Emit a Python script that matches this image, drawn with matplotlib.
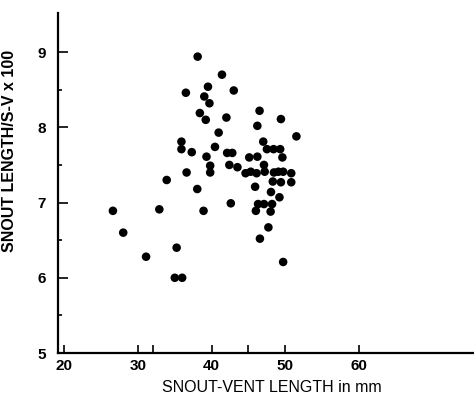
import matplotlib
matplotlib.use("Agg")
import matplotlib.pyplot as plt
from matplotlib.ticker import FixedLocator

plt.rcParams['font.family'] = ['Liberation Sans', 'DejaVu Sans']

# Snout-vent length (mm)
svl = [26.6, 28.0, 31.1, 32.9, 33.9, 35.0, 36.0, 35.25, 36.6, 38.05,
       38.9, 39.8, 39.8, 35.9, 35.9, 37.3, 39.3, 40.45, 40.95, 38.4,
       39.2, 39.7, 39.0, 39.5, 36.5, 38.1, 41.4, 43.0, 42.0, 42.1,
       42.8, 42.4, 43.5, 42.6, 44.6, 45.3, 46.1, 45.1, 46.2, 46.5,
       46.2, 47.0, 47.5, 48.4, 49.3, 49.4, 51.5, 49.6, 47.1, 47.2,
       48.45, 49.05, 49.7, 50.8, 45.9, 48.3, 49.4, 50.8, 48.05, 49.2,
       46.3, 47.1, 48.2, 46.0, 48.0, 47.7, 46.55, 49.7]
# Snout length / S-V x 100
ratio = [6.89, 6.60, 6.28, 6.91, 7.30, 6.00, 6.00, 6.40, 7.40, 7.18,
         6.89, 7.49, 7.40, 7.81, 7.71, 7.67, 7.61, 7.74, 7.93, 8.19,
         8.10, 8.32, 8.41, 8.54, 8.46, 8.94, 8.70, 8.49, 8.13, 7.66,
         7.66, 7.50, 7.47, 6.99, 7.39, 7.41, 7.39, 7.60, 7.61, 8.22,
         8.02, 7.81, 7.71, 7.71, 7.71, 8.11, 7.88, 7.60, 7.50, 7.41,
         7.40, 7.41, 7.41, 7.39, 7.21, 7.28, 7.27, 7.27, 7.14, 7.07,
         6.98, 6.98, 6.98, 6.89, 6.88, 6.67, 6.52, 6.21]

x_major = [20, 30, 40, 50, 60]
x_minor = [32, 45]
y_major = [5, 6, 7, 8, 9]
y_minor = [5.5, 6.5, 7.5, 8.5]

fig = plt.figure(figsize=(4.74, 4.01), dpi=100)
ax = fig.add_axes([58/474, 1 - 353/401, 1 - 58/474, (353 - 13)/401])

ax.scatter(svl, ratio, s=38, color='black', edgecolors='none', zorder=3)

ax.set_xlim(19.15, 75.6)
ax.set_ylim(5.0, 9.52)

ax.spines['top'].set_visible(False)
ax.spines['right'].set_visible(False)
ax.spines['left'].set_linewidth(1.6)
ax.spines['bottom'].set_linewidth(1.6)

ax.xaxis.set_major_locator(FixedLocator(x_major))
ax.xaxis.set_minor_locator(FixedLocator(x_minor))
ax.yaxis.set_major_locator(FixedLocator(y_major))
ax.yaxis.set_minor_locator(FixedLocator(y_minor))

ax.tick_params(axis='x', which='major', direction='in', length=6, width=1.2,
               pad=4, labelsize=11)
ax.tick_params(axis='x', which='minor', direction='in', length=6, width=1.2)
ax.tick_params(axis='y', which='major', direction='in', length=7, width=1.2,
               pad=9, labelsize=11)
ax.tick_params(axis='y', which='minor', direction='in', length=3, width=1.2)
ax.set_xticklabels([str(v) for v in x_major], fontweight='bold')
ax.set_yticklabels([str(v) for v in y_major], fontweight='bold')

ax.set_xlabel('SNOUT-VENT LENGTH in mm', fontsize=11.5)
ax.xaxis.set_label_coords((272 - 58) / (474 - 58), -0.08)
ax.set_ylabel('SNOUT LENGTH/S-V x 100', fontsize=11.5, fontweight='bold')
ax.yaxis.set_label_coords(-(58 - 17) / (474 - 58), (353 - 151) / 340)

fig.savefig('out.png', dpi=100)
